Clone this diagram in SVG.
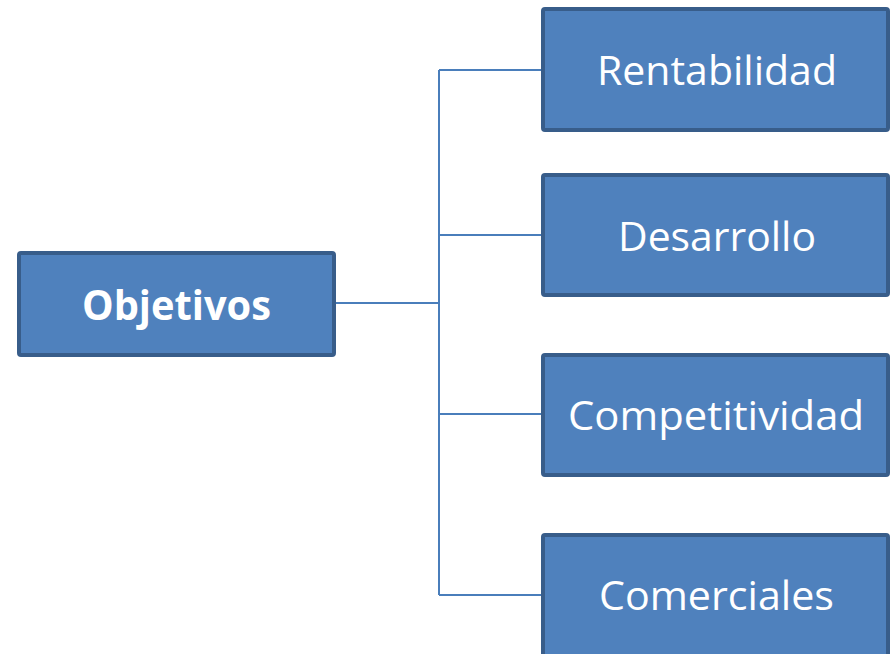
<svg xmlns="http://www.w3.org/2000/svg" width="890" height="654" viewBox="0 0 890 654">
<style>
.box{fill:#4f81bd;stroke:#385d8a;stroke-width:4}
.lbl{fill:#ffffff;font-family:"Open Sans","Liberation Sans",sans-serif;font-size:41px;text-anchor:middle}
.b{font-weight:bold}
.conn{fill:none;stroke:#4a7ebb;stroke-width:2}
</style>
<rect width="890" height="654" fill="#ffffff"/>
<g id="connectors">
<path class="conn" d="M336 303H439M439 70V595M439 70H543M439 235H543M439 414H543M439 595H543"/>
</g>
<g id="objetivos">
<rect class="box" x="19" y="253" width="315" height="102" rx="2"/>
<text class="lbl b" x="176.5" y="320" textLength="189" lengthAdjust="spacingAndGlyphs">Objetivos</text>
</g>
<g id="rentabilidad">
<rect class="box" x="543" y="9" width="345" height="121" rx="2"/>
<text class="lbl" x="717" y="85" textLength="240" lengthAdjust="spacingAndGlyphs">Rentabilidad</text>
</g>
<g id="desarrollo">
<rect class="box" x="543" y="175" width="345" height="120" rx="2"/>
<text class="lbl" x="717" y="251" textLength="198" lengthAdjust="spacingAndGlyphs">Desarrollo</text>
</g>
<g id="competitividad">
<rect class="box" x="543" y="355" width="345" height="120" rx="2"/>
<text class="lbl" x="716" y="430" textLength="296" lengthAdjust="spacingAndGlyphs">Competitividad</text>
</g>
<g id="comerciales">
<rect class="box" x="543" y="535" width="345" height="122" rx="2"/>
<text class="lbl" x="716.5" y="610" textLength="235" lengthAdjust="spacingAndGlyphs">Comerciales</text>
</g>
</svg>
